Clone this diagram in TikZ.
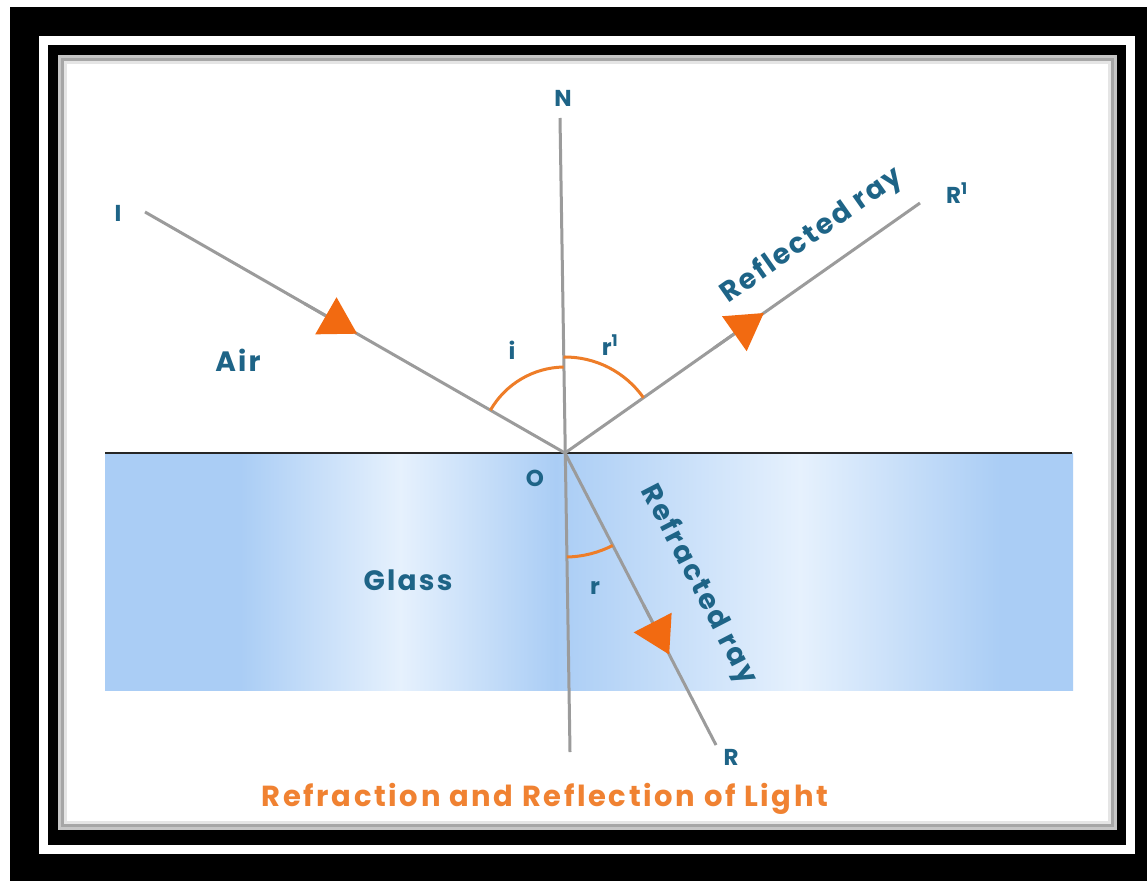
\documentclass[tikz,border=0pt]{standalone}
\usepackage{fontspec}
\setmainfont{Poppins}
\definecolor{raygrey}{RGB}{155, 155, 155}
\definecolor{raytip}{RGB}{242, 106, 17}
\definecolor{arcorange}{RGB}{238, 125, 40}
\definecolor{titleorange}{RGB}{240, 130, 50}
\definecolor{labelblue}{RGB}{30, 100, 135}
\definecolor{glassdark}{RGB}{170, 205, 245}
\definecolor{glasslight}{RGB}{230, 241, 253}
\usepackage{tikz}
\usetikzlibrary{arrows.meta, positioning, calc}

\begin{document}
\begin{tikzpicture}[
  x=1pt, y=1pt,
  lightray/.style={draw=raygrey, line width=3pt},
  tipdraw/.style={draw=raygrey, line width=3pt, -{Triangle[length=36pt, width=42pt, color=raytip]}},
  anglearc/.style={draw=arcorange, line width=3pt},
  lbl/.style={text=labelblue, font=\bfseries\fontsize{28}{32}\selectfont\addfontfeatures{LetterSpace=8}, inner sep=0pt},
  letter/.style={lbl, font=\bfseries\fontsize{23}{28}\selectfont}
]
  % frame
  \fill[white] (0,0) rectangle (1147,-881);
  \fill[black] (10,-7) rectangle (1147,-881);
  \fill[white] (39,-36) rectangle (1135,-854);
  \fill[black] (48,-45) rectangle (1126,-845);
  \fill[gray!45] (58,-55) rectangle (1117,-830);
  \fill[gray!70] (61,-58) rectangle (1114,-827);
  \fill[gray!20] (64,-61) rectangle (1111,-824);
  \fill[white] (67,-64) rectangle (1108,-821);

  % glass block
  \foreach \xa/\xb/\ca/\cb in {105/240/glassdark/glassdark, 240/400/glassdark/glasslight,
      400/555/glasslight/glassdark, 555/800/glassdark/glasslight,
      800/1000/glasslight/glassdark, 1000/1072/glassdark/glassdark}
    \shade[left color=\ca, right color=\cb] (\xa,-453) rectangle (\xb+1,-690);
  \coordinate (sl) at (105,-453);
  \coordinate (sr) at (1072,-453);
  \draw[line width=2pt, black!85] (sl) -- (sr);

  % points
  \coordinate (O) at (565,-453);
  \coordinate (Ntop) at (560,-118);
  \coordinate (Nbot) at (570,-752);
  \coordinate (Ipt) at (145,-212);
  \coordinate (R1pt) at (920,-203);
  \coordinate (Rpt) at (716,-745);

  % rays
  \draw[lightray] (Ntop) -- (Nbot);
  \draw[lightray] (Ipt) -- (O);
  \draw[lightray] (O) -- (R1pt);
  \draw[lightray] (O) -- (Rpt);
  \draw[tipdraw] ($(Ipt)!0.38!(O)$) -- ($(Ipt)!0.505!(O)$);
  \draw[tipdraw] ($(O)!0.42!(R1pt)$) -- ($(O)!0.56!(R1pt)$);
  \draw[tipdraw] ($(O)!0.52!(Rpt)$) -- ($(O)!0.69!(Rpt)$);

  % angles
  \draw[anglearc] (O) ++(150.15:86) arc[start angle=150.15, end angle=90.9, radius=86];
  \draw[anglearc] (O) ++(90.9:96) arc[start angle=90.9, end angle=35.15, radius=96];
  \draw[anglearc] (O) ++(-89:104) arc[start angle=-89, end angle=-62.65, radius=104];

  % labels
  \node[letter] (nlbl) at (563,-98) {N};
  \node[letter] (ilbl) at (118,-213) {I};
  \node[letter] (r1lbl) at (957,-193) {R\textsuperscript{1}};
  \node[letter] (rlbl) at (731,-757) {R};
  \node[letter] (olbl) at (535,-478) {O};
  \node[letter] (iang) at (512,-350) {i};
  \node[letter] (r1ang) at (610,-345) {r\textsuperscript{1}};
  \node[letter] (rang) at (595,-588) {r};
  \node[lbl] (air) at (238,-360) {Air};
  \node[lbl] (glass) at (408,-580) {Glass};
  \node[lbl, rotate=35.15] (refl) at (812,-236) {Reflected ray};
  \node[lbl, rotate=-62.65] (refr) at (698,-585) {Refracted ray};
  \node[lbl, text=titleorange, anchor=base,
    font=\bfseries\fontsize{29}{32}\selectfont\addfontfeatures{LetterSpace=9}] (title) at (545,-806)
    {Refraction and Reflection of Light};
\end{tikzpicture}
\end{document}
